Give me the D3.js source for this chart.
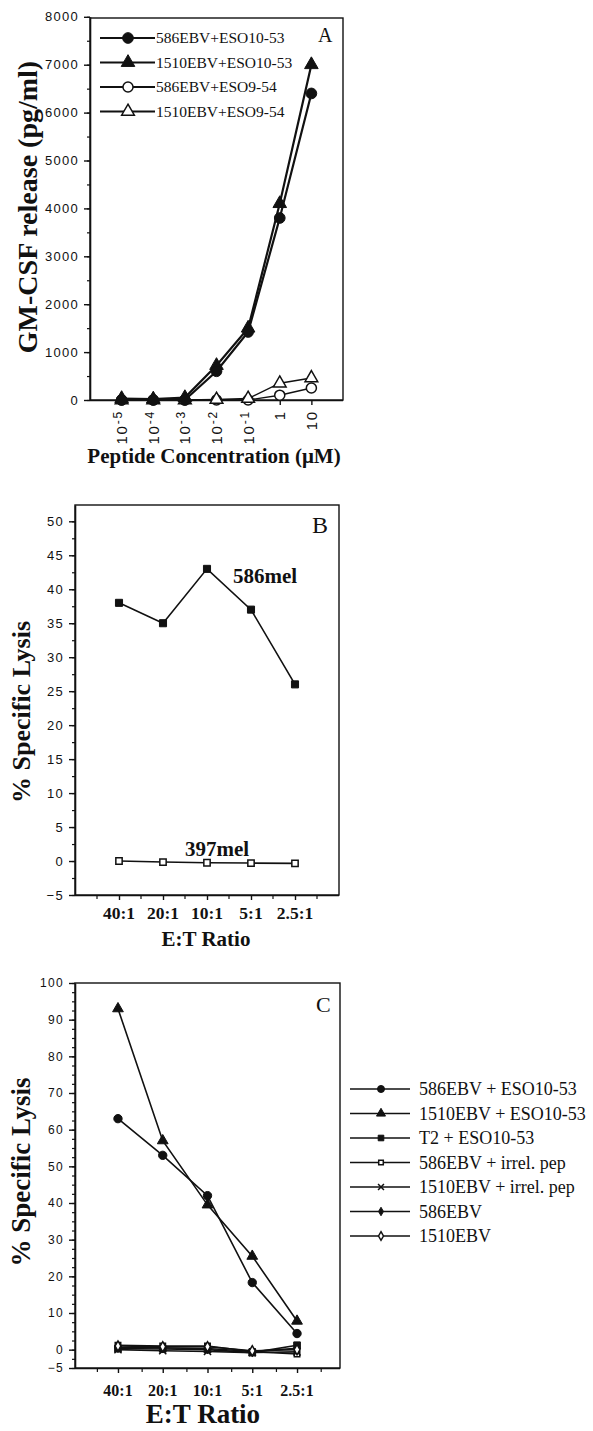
<!DOCTYPE html>
<html>
<head>
<meta charset="utf-8">
<script src="https://cdn.jsdelivr.net/npm/d3@7"></script>
<style>
  body { margin: 0; background: #fff; }
  text { fill: #111; }
  .serif { font-family: "Liberation Serif", "Times New Roman", serif; }
  .tick text { font-family: "Liberation Sans", Arial, sans-serif; letter-spacing: 1.3px; }
</style>
</head>
<body>
<svg id="fig" width="593" height="1431"></svg>
<script>
/* ---- panel A: GM-CSF release vs peptide concentration ---- */
const concCategories = ['1e-5', '1e-4', '1e-3', '1e-2', '1e-1', '1', '10'];
const concTickBase = ['10', '10', '10', '10', '10', '1', '10'];
const concTickExp = ['-5', '-4', '-3', '-2', '-1', '', ''];
const gmTicks = [0, 1000, 2000, 3000, 4000, 5000, 6000, 7000, 8000];

const gm586Eso1053 = [0, 0, 0, 600, 1420, 3800, 6400];
const gm1510Eso1053 = [30, 20, 50, 720, 1500, 4100, 7000];
const gm586Eso954 = [0, 0, 0, 0, 0, 100, 250];
const gm1510Eso954 = [0, 0, 0, 10, 30, 350, 460];
const gmNames = ['586EBV+ESO10-53', '1510EBV+ESO10-53', '586EBV+ESO9-54', '1510EBV+ESO9-54'];

/* ---- panel B: lysis of melanoma lines ---- */
const ratioLabels = ['40:1', '20:1', '10:1', '5:1', '2.5:1'];
const lysisBTicks = [-5, 0, 5, 10, 15, 20, 25, 30, 35, 40, 45, 50];
const lysis586mel = [38, 35, 43, 37, 26];
const lysis397mel = [0, -0.15, -0.25, -0.3, -0.35];

/* ---- panel C: lysis of pulsed targets ---- */
const lysisCTicks = [-5, 0, 10, 20, 30, 40, 50, 60, 70, 80, 90, 100];
const lysisC586Eso = [63, 53, 42, 18.3, 4.4];
const lysisC1510Eso = [93, 57, 39.5, 25.5, 7.8];
const lysisCT2Eso = [0.3, 0.2, 0, -0.8, 1.2];
const lysisC586Irr = [1.2, 1, 1, -0.5, -1.2];
const lysisC1510Irr = [0, -0.3, -0.5, -0.8, -0.6];
const lysisC586 = [0.6, 0.5, 0.3, -0.5, 0.4];
const lysisC1510 = [1, 0.8, 0.8, -0.3, 0];
const lysisCNames = ['586EBV + ESO10-53', '1510EBV + ESO10-53', 'T2 + ESO10-53',
  '586EBV + irrel. pep', '1510EBV + irrel. pep', '586EBV', '1510EBV'];

const svg = d3.select('#fig');

function frame(box) {
  svg.append('rect')
    .attr('x', box.left).attr('y', box.top)
    .attr('width', box.right - box.left).attr('height', box.bottom - box.top)
    .attr('fill', 'none').attr('stroke', '#111').attr('stroke-width', 1.4);
}

function yAxis(box, y, majors, step, fontSize) {
  const minors = d3.range(y.domain()[0], y.domain()[1] + 0.001, step);
  svg.append('g')
    .attr('transform', `translate(${box.left},0)`)
    .call(d3.axisLeft(y).tickValues(minors).tickSize(3).tickFormat(''))
    .call(g => g.select('.domain').remove())
    .selectAll('line').attr('stroke', '#111').attr('stroke-width', 1.2);
  const ax = svg.append('g')
    .attr('transform', `translate(${box.left},0)`)
    .call(d3.axisLeft(y).tickValues(majors).tickSize(6).tickPadding(5)
      .tickSizeOuter(0).tickFormat(d3.format('d')));
  ax.select('.domain').attr('stroke', '#111').attr('stroke-width', 1.6);
  ax.selectAll('line').attr('stroke', '#111').attr('stroke-width', 1.4);
  ax.selectAll('text').attr('font-size', fontSize).attr('fill', '#222');
}

function xAxis(box, x, withMinor) {
  const ax = svg.append('g')
    .attr('transform', `translate(0,${box.bottom})`)
    .call(d3.axisBottom(x).tickSize(5).tickFormat('').tickSizeOuter(0));
  ax.select('.domain').attr('d', `M${box.left},0.5H${box.right}`)
    .attr('stroke', '#111').attr('stroke-width', 1.6);
  ax.selectAll('line').attr('stroke', '#111').attr('stroke-width', 1.4);
  if (withMinor) {
    const step = x.step();
    const mids = d3.range(box.left + step / 2, box.right, step);
    ax.selectAll('.minor').data(mids).enter().append('line')
      .attr('x1', d => d).attr('x2', d => d).attr('y1', 0).attr('y2', 4)
      .attr('stroke', '#111').attr('stroke-width', 1.2);
  }
}

function marker(sel, style) {
  sel.attr('d', d3.symbol().type(style.type).size(style.size))
    .attr('fill', style.type === d3.symbolTimes ? 'none' : (style.open ? '#fff' : '#111'))
    .attr('stroke', '#111')
    .attr('stroke-width', style.open || style.type === d3.symbolTimes ? 1.5 : 1);
}

function series(x, y, cats, values, style) {
  const pts = cats.map((c, i) => [x(c), y(values[i])]);
  svg.append('path')
    .attr('d', d3.line()(pts))
    .attr('fill', 'none').attr('stroke', '#111').attr('stroke-width', style.lw);
  svg.append('g').selectAll('path').data(pts).enter().append('path')
    .attr('transform', d => `translate(${d[0]},${d[1]})`)
    .call(marker, style);
}

function label(txt, x, y, size, opts = {}) {
  return svg.append('text').attr('class', 'serif')
    .attr('x', x).attr('y', y)
    .attr('font-size', size)
    .attr('font-weight', opts.bold ? 'bold' : 'normal')
    .attr('text-anchor', opts.anchor || 'start')
    .text(txt);
}

function yTitle(txt, x, cy, size) {
  svg.append('text').attr('class', 'serif')
    .attr('transform', `translate(${x},${cy}) rotate(-90)`)
    .attr('text-anchor', 'middle').attr('font-weight', 'bold')
    .attr('font-size', size)
    .text(txt);
}

/* ===== panel A ===== */
const boxA = { left: 90, right: 343, top: 18, bottom: 400 };
const xA = d3.scalePoint().domain(concCategories).range([boxA.left, boxA.right]).padding(1);
const yA = d3.scaleLinear().domain([0, 8000]).range([boxA.bottom, 16.8]);

frame(boxA);
yAxis(boxA, yA, gmTicks, 500, 13);
xAxis(boxA, xA, false);

svg.append('g').selectAll('text').data(concCategories).enter().append('text')
  .attr('transform', d => `translate(${xA(d) + 5.5},410) rotate(-90)`)
  .attr('text-anchor', 'end')
  .attr('font-family', '"Liberation Sans", Arial, sans-serif')
  .attr('font-size', 15).attr('letter-spacing', 1.8)
  .each(function (d, i) {
    const t = d3.select(this);
    t.append('tspan').text(concTickBase[i]);
    if (concTickExp[i]) {
      t.append('tspan').attr('dy', -5).attr('font-size', 12).text(concTickExp[i]);
    }
  });

const stylesA = [
  { type: d3.symbolCircle, size: 90, open: false, lw: 2.2 },
  { type: d3.symbolTriangle, size: 80, open: false, lw: 2.2 },
  { type: d3.symbolCircle, size: 80, open: true, lw: 1.4 },
  { type: d3.symbolTriangle, size: 70, open: true, lw: 1.4 },
];
[gm586Eso954, gm1510Eso954, gm1510Eso1053, gm586Eso1053].forEach((vals, k) => {
  const idx = [2, 3, 1, 0][k];
  series(xA, yA, concCategories, vals, stylesA[idx]);
});

// legend A
gmNames.forEach((name, i) => {
  const ly = 38 + i * 24.5;
  svg.append('line').attr('x1', 100).attr('x2', 155).attr('y1', ly).attr('y2', ly)
    .attr('stroke', '#111').attr('stroke-width', 1.8);
  svg.append('path').attr('transform', `translate(128,${ly})`).call(marker, stylesA[i]);
  label(name, 156, ly + 5, 15.5);
});
label('A', 318, 42, 20);
yTitle('GM-CSF release (pg/ml)', 37, 207, 28);
label('Peptide Concentration (\u03bcM)', 214, 463, 21, { bold: true, anchor: 'middle' });

/* ===== panel B ===== */
const boxB = { left: 75, right: 339, top: 505, bottom: 895 };
const xB = d3.scalePoint().domain(ratioLabels).range([boxB.left, boxB.right]).padding(1);
const yB = d3.scaleLinear().domain([-5, 52.4]).range([boxB.bottom, boxB.top]);

frame(boxB);
yAxis(boxB, yB, lysisBTicks, 2.5, 13);
xAxis(boxB, xB, true);
ratioLabels.forEach(r => label(r, xB(r), 919, 17.5, { bold: true, anchor: 'middle' }));

series(xB, yB, ratioLabels, lysis586mel, { type: d3.symbolSquare, size: 50, open: false, lw: 1.6 });
series(xB, yB, ratioLabels, lysis397mel, { type: d3.symbolSquare, size: 40, open: true, lw: 1.6 });

label('586mel', 233, 583, 21, { bold: true });
label('397mel', 185, 856, 21, { bold: true });
label('B', 312, 533, 24);
yTitle('% Specific Lysis', 30, 712, 26);
label('E:T Ratio', 206, 946, 21, { bold: true, anchor: 'middle' });

/* ===== panel C ===== */
const boxC = { left: 75, right: 340, top: 983, bottom: 1368 };
const xC = d3.scalePoint().domain(ratioLabels).range([boxC.left, boxC.right]).padding(0.96);
const yC = d3.scaleLinear().domain([-5, 100]).range([boxC.bottom, boxC.top]);

frame(boxC);
yAxis(boxC, yC, lysisCTicks, 2.5, 12);
xAxis(boxC, xC, true);
ratioLabels.forEach(r => label(r, xC(r), 1396, 16, { bold: true, anchor: 'middle' }));

const stylesC = [
  { type: d3.symbolCircle, size: 55, open: false, lw: 1.6 },
  { type: d3.symbolTriangle, size: 50, open: false, lw: 1.6 },
  { type: d3.symbolSquare, size: 45, open: false, lw: 1.6 },
  { type: d3.symbolSquare, size: 30, open: true, lw: 1.6 },
  { type: d3.symbolTimes, size: 35, open: false, lw: 1.6 },
  { type: d3.symbolDiamond, size: 30, open: false, lw: 1.6 },
  { type: d3.symbolDiamond, size: 30, open: true, lw: 1.6 },
];
const seriesC = [lysisC586Eso, lysisC1510Eso, lysisCT2Eso, lysisC586Irr, lysisC1510Irr, lysisC586, lysisC1510];
seriesC.forEach((vals, i) => series(xC, yC, ratioLabels, vals, stylesC[i]));

// legend C
lysisCNames.forEach((name, i) => {
  const ly = 1089 + i * 24.5;
  svg.append('line').attr('x1', 350).attr('x2', 410).attr('y1', ly).attr('y2', ly)
    .attr('stroke', '#111').attr('stroke-width', 1.3);
  svg.append('path').attr('transform', `translate(381,${ly})`)
    .call(marker, Object.assign({}, stylesC[i], { size: stylesC[i].size * 0.7 }));
  label(name, 419, ly + 6, 18);
});
label('C', 316, 1012, 22);
yTitle('% Specific Lysis', 30, 1172, 27);
label('E:T Ratio', 203, 1423, 27, { bold: true, anchor: 'middle' });
</script>
</body>
</html>
